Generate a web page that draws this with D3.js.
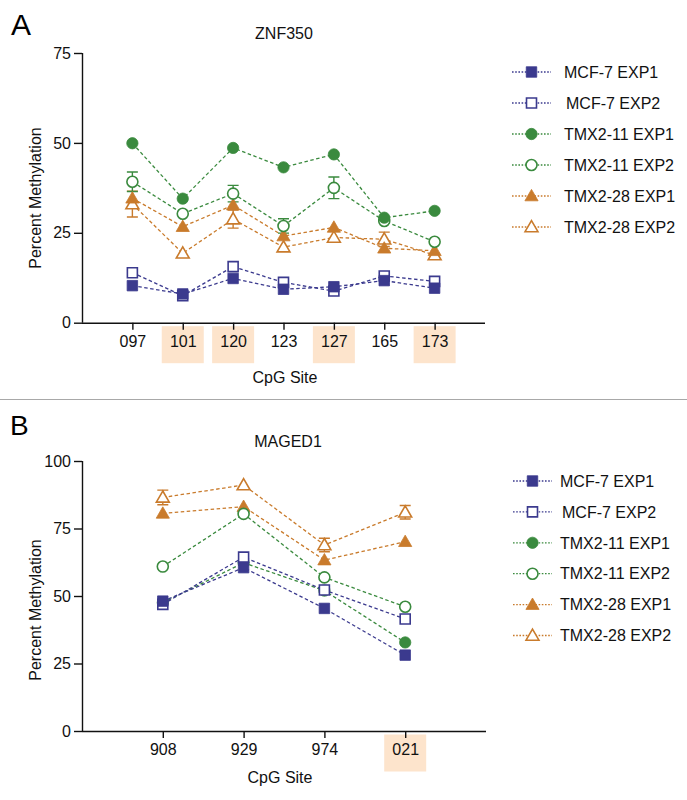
<!DOCTYPE html>
<html>
<head>
<meta charset="utf-8">
<script src="https://cdn.jsdelivr.net/npm/d3@7"></script>
<style>
  html, body { margin: 0; padding: 0; background: #fff; }
  svg { display: block; font-family: "Liberation Sans", Arial, Helvetica, sans-serif; }
</style>
</head>
<body>
<svg id="chart" width="687" height="800"></svg>
<script>
// ---------- DATA ----------
const seriesNames = ["MCF-7 EXP1", "MCF-7 EXP2", "TMX2-11 EXP1", "TMX2-11 EXP2", "TMX2-28 EXP1", "TMX2-28 EXP2"];

// Panel A: ZNF350
const sitesA = ["097", "101", "120", "123", "127", "165", "173"];
const highlightA = ["101", "120", "127", "173"];
const ticksA = [0, 25, 50, 75];
const mcf7Exp1A   = [10.3, 8.0, 12.3, 9.3, 10.0, 11.7, 9.6];
const mcf7Exp2A   = [13.9, 7.5, 15.6, 11.2, 8.8, 13.0, 11.5];
const tmx11Exp1A  = [49.9, 34.5, 48.6, 43.2, 46.8, 29.2, 31.1];
const tmx11Exp2A  = [39.2, 30.3, 35.9, 26.9, 37.5, 28.3, 22.5];
const tmx28Exp1A  = [34.6, 26.7, 32.7, 24.1, 26.5, 20.7, 20.0];
const tmx28Exp2A  = [33.0, 19.3, 28.8, 21.0, 23.7, 23.2, 18.8];
const tmx11Exp2ErrA = [2.7, 0, 2.3, 2.0, 3.0, 0, 0];
const tmx28Exp2ErrA = [3.6, 0, 2.5, 0, 0, 2.0, 0];

// Panel B: MAGED1
const sitesB = ["908", "929", "974", "021"];
const highlightB = ["021"];
const ticksB = [0, 25, 50, 75, 100];
const mcf7Exp1B   = [48.1, 60.5, 45.4, 28.1];
const mcf7Exp2B   = [46.9, 64.4, 52.2, 41.5];
const tmx11Exp1B  = [47.5, 62.3, 52.0, 32.8];
const tmx11Exp2B  = [60.9, 80.4, 56.9, 46.0];
const tmx28Exp1B  = [80.6, 83.1, 63.3, 70.1];
const tmx28Exp2B  = [86.5, 91.1, 68.9, 81.0];
const tmx28Exp2ErrB = [2.7, 0, 2.5, 2.5];

// ---------- STYLE ----------
const colors = ["#3b3a8e", "#3b3a8e", "#3a8a3e", "#3a8a3e", "#c97b2c", "#c97b2c"];
const shapes = [d3.symbolSquare, d3.symbolSquare, d3.symbolCircle, d3.symbolCircle, d3.symbolTriangle, d3.symbolTriangle];
const filled = [true, false, true, false, true, false];
const symSizes = [110, 100, 100, 95, 75, 72];
const FONT = 16;

const svg = d3.select("#chart");

function drawPanel(cfg) {
  const g = svg.append("g");
  const x = d3.scaleLinear().domain([0, cfg.sites.length + 1]).range([cfg.left, cfg.right]);
  const y = d3.scaleLinear().domain([0, cfg.ymax]).range([cfg.bottom, cfg.top]);

  // highlight boxes behind tick labels
  cfg.sites.forEach((s, i) => {
    if (cfg.highlight.includes(s)) {
      g.append("rect")
        .attr("x", x(i + 1) - 21).attr("y", cfg.bottom + 3.5)
        .attr("width", 42).attr("height", 37)
        .attr("fill", "#fde4cc");
    }
  });

  // axes
  const yAxis = d3.axisLeft(y).tickValues(cfg.ticks).tickSize(8).tickPadding(3).tickFormat(d3.format("d"));
  const gy = g.append("g").attr("transform", `translate(${cfg.left},0)`).call(yAxis);
  const xAxis = d3.axisBottom(x).tickValues(d3.range(1, cfg.sites.length + 1)).tickSize(7).tickPadding(6)
    .tickFormat(d => cfg.sites[d - 1]);
  const gx = g.append("g").attr("transform", `translate(0,${cfg.bottom})`).call(xAxis);
  [gx, gy].forEach(ax => {
    ax.select(".domain").attr("stroke", "#111").attr("stroke-width", 1.4);
    ax.selectAll(".tick line").attr("stroke", "#111").attr("stroke-width", 1.4);
    ax.selectAll(".tick text").attr("fill", "#111").attr("font-size", FONT)
      .attr("font-family", "'Liberation Sans', Arial, Helvetica, sans-serif");
  });
  gx.select(".domain").attr("d", `M${cfg.left},0.5H${cfg.right}`);
  gy.select(".domain").attr("d", `M0.5,${cfg.top}V${cfg.bottom}`);

  // titles
  g.append("text").attr("x", cfg.titleX).attr("y", cfg.titleY).attr("text-anchor", "middle")
    .attr("font-size", FONT).attr("fill", "#111").text(cfg.title);
  g.append("text").attr("x", cfg.xlabX).attr("y", cfg.xlabY).attr("text-anchor", "middle")
    .attr("font-size", FONT).attr("fill", "#111").text("CpG Site");
  g.append("text").attr("transform", `translate(${cfg.ylabX},${cfg.ylabY}) rotate(-90)`)
    .attr("text-anchor", "middle").attr("font-size", FONT).attr("fill", "#111").text("Percent Methylation");
  g.append("text").attr("x", cfg.letterX).attr("y", cfg.letterY)
    .attr("font-size", cfg.letterSize).attr("fill", "#000").text(cfg.letter);

  const line = d3.line().x((d, i) => x(i + 1)).y(d => y(d));
  const order = d3.range(cfg.series.length).reverse();

  // lines
  order.forEach(k => {
    g.append("path").datum(cfg.series[k]).attr("d", line)
      .attr("fill", "none").attr("stroke", colors[k]).attr("stroke-width", 1.3)
      .attr("stroke-dasharray", "3.5,2.5");
  });

  // error bars
  order.forEach(k => {
    const err = cfg.errors[k];
    if (!err) return;
    cfg.series[k].forEach((v, i) => {
      if (!err[i]) return;
      const cx = x(i + 1), y1 = y(v + err[i]), y2 = y(v - err[i]);
      g.append("path")
        .attr("d", `M${cx},${y1}V${y2}M${cx - 5.5},${y1}H${cx + 5.5}M${cx - 5.5},${y2}H${cx + 5.5}`)
        .attr("stroke", colors[k]).attr("stroke-width", 1.4).attr("fill", "none");
    });
  });

  // markers (first series on top)
  order.forEach(k => {
    const sym = d3.symbol().type(shapes[k]).size(symSizes[k]);
    cfg.series[k].forEach((v, i) => {
      const dy = shapes[k] === d3.symbolTriangle ? 1 : 0;
      g.append("path").attr("d", sym())
        .attr("transform", `translate(${x(i + 1)},${y(v) + dy})`)
        .attr("fill", filled[k] ? colors[k] : "#fff")
        .attr("stroke", colors[k]).attr("stroke-width", filled[k] ? 0.8 : 1.6);
    });
  });

  // legend
  seriesNames.forEach((name, k) => {
    const ly = cfg.legendY + k * cfg.legendStep;
    g.append("line").attr("x1", cfg.legendX1).attr("x2", cfg.legendX2).attr("y1", ly).attr("y2", ly)
      .attr("stroke", colors[k]).attr("stroke-width", 1.3).attr("stroke-dasharray", "1.6,1.6");
    const mx = (cfg.legendX1 + cfg.legendX2) / 2;
    const dy = shapes[k] === d3.symbolTriangle ? 1 : 0;
    g.append("path").attr("d", d3.symbol().type(shapes[k]).size(symSizes[k])())
      .attr("transform", `translate(${mx},${ly + dy})`)
      .attr("fill", filled[k] ? colors[k] : "#fff")
      .attr("stroke", colors[k]).attr("stroke-width", filled[k] ? 0.8 : 1.6);
    g.append("text").attr("x", cfg.legendTextX + (k === 1 ? 2 : 0)).attr("y", ly).attr("dy", "0.36em")
      .attr("font-size", 16).attr("fill", "#111").text(name);
  });
}

drawPanel({
  sites: sitesA, highlight: highlightA, ticks: ticksA, ymax: 75,
  left: 82, right: 485, top: 53, bottom: 322.7,
  series: [mcf7Exp1A, mcf7Exp2A, tmx11Exp1A, tmx11Exp2A, tmx28Exp1A, tmx28Exp2A],
  errors: [null, null, null, tmx11Exp2ErrA, null, tmx28Exp2ErrA],
  title: "ZNF350", titleX: 284, titleY: 39,
  xlabX: 285, xlabY: 383, ylabX: 41, ylabY: 198,
  letter: "A", letterX: 11, letterY: 35, letterSize: 30,
  legendX1: 512, legendX2: 551, legendTextX: 564, legendY: 72, legendStep: 31
});

drawPanel({
  sites: sitesB, highlight: highlightB, ticks: ticksB, ymax: 100,
  left: 82, right: 486, top: 461, bottom: 731,
  series: [mcf7Exp1B, mcf7Exp2B, tmx11Exp1B, tmx11Exp2B, tmx28Exp1B, tmx28Exp2B],
  errors: [null, null, null, null, null, tmx28Exp2ErrB],
  title: "MAGED1", titleX: 288, titleY: 447,
  xlabX: 280, xlabY: 783, ylabX: 41, ylabY: 610,
  letter: "B", letterX: 10, letterY: 435, letterSize: 28,
  legendX1: 513, legendX2: 552, legendTextX: 560, legendY: 481, legendStep: 30.9
});

// separator
svg.append("line").attr("x1", 0).attr("x2", 687).attr("y1", 399.5).attr("y2", 399.5)
  .attr("stroke", "#a8a8a8").attr("stroke-width", 1.2);
</script>
</body>
</html>
